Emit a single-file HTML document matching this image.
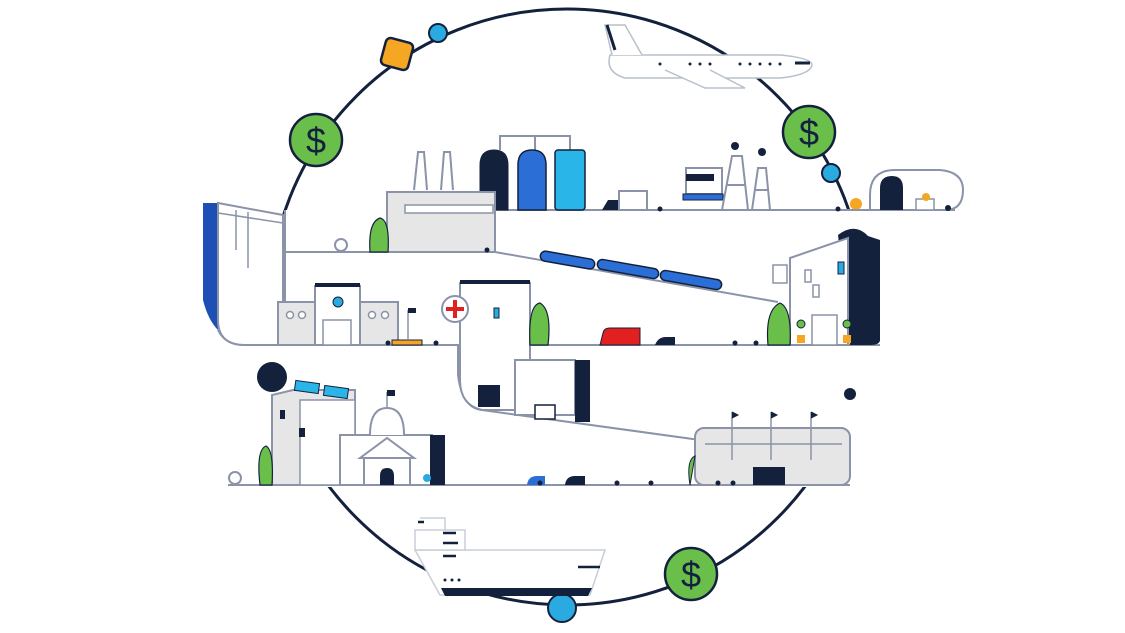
<!DOCTYPE html>
<html><head><meta charset="utf-8"><style>html,body{margin:0;padding:0;background:#fff}svg{display:block}</style></head>
<body>
<svg width="1125" height="633" viewBox="0 0 1125 633" xmlns="http://www.w3.org/2000/svg" font-family="Liberation Sans, sans-serif">
<g fill="none" stroke-linecap="round" stroke-linejoin="round">
<circle cx="567" cy="307" r="298" stroke="#14213d" stroke-width="3"/>
</g>
<path d="M285 210 H960 V345 H285 Z" fill="#fff"/>
<path d="M218 252 H880 V487 H218 Z" fill="#fff"/>
<!-- plane -->
<g stroke="#b8c0cc" stroke-width="1.5" fill="#fff">
<path d="M610 55 H780 Q812 58 812 65 Q810 75 780 78 H625 Q605 72 610 55 Z"/>
<path d="M612 55 L605 25 L625 25 L642 55" />
<path d="M665 70 L705 88 H745 L710 70"/>
</g>
<path d="M607 25 L615 50" stroke="#14213d" stroke-width="3"/>
<path d="M795 63 H810" stroke="#14213d" stroke-width="3"/>
<g fill="#14213d"><circle cx="660" cy="64" r="1.5"/><circle cx="690" cy="64" r="1.5"/><circle cx="700" cy="64" r="1.5"/><circle cx="710" cy="64" r="1.5"/><circle cx="740" cy="64" r="1.5"/><circle cx="750" cy="64" r="1.5"/><circle cx="760" cy="64" r="1.5"/><circle cx="770" cy="64" r="1.5"/><circle cx="780" cy="64" r="1.5"/></g>
<rect x="383" y="40" width="28" height="28" rx="5" fill="#f5a623" stroke="#14213d" stroke-width="2.5" transform="rotate(15 397 54)"/>
<circle cx="438" cy="33" r="9" fill="#29abe2" stroke="#14213d" stroke-width="2"/>
<circle cx="316" cy="140" r="26" fill="#6abf4b" stroke="#14213d" stroke-width="2.5"/>
<text x="316" y="153" font-size="36" text-anchor="middle" fill="#14213d">$</text>
<circle cx="809" cy="132" r="26" fill="#6abf4b" stroke="#14213d" stroke-width="2.5"/>
<text x="809" y="145" font-size="36" text-anchor="middle" fill="#14213d">$</text>
<circle cx="831" cy="173" r="9" fill="#29abe2" stroke="#14213d" stroke-width="2"/>
<circle cx="856" cy="204" r="6" fill="#f5a623"/>
<circle cx="691" cy="574" r="26" fill="#6abf4b" stroke="#14213d" stroke-width="2.5"/>
<text x="691" y="587" font-size="36" text-anchor="middle" fill="#14213d">$</text>
<circle cx="562" cy="608" r="14" fill="#29abe2" stroke="#14213d" stroke-width="2"/>
<circle cx="850" cy="394" r="6" fill="#14213d"/>
<circle cx="272" cy="377" r="15" fill="#14213d"/>
<!-- ship -->
<g stroke="#c8ced8" stroke-width="1.5" fill="#fff">
<path d="M415 550 H605 L590 595 H440 Z"/>
<path d="M415 530 H465 V550 H415 Z"/>
<path d="M420 518 H445 V530"/>
</g>
<path d="M445 596 H588 L592 588 H441 Z" fill="#14213d"/>
<g stroke="#14213d" stroke-width="2.5"><path d="M443 533 H456"/><path d="M443 543 H458"/><path d="M443 556 H456"/><path d="M578 567 H600"/><path d="M418 522 H424"/></g>
<g fill="#14213d"><circle cx="445" cy="580" r="1.5"/><circle cx="452" cy="580" r="1.5"/><circle cx="459" cy="580" r="1.5"/></g>
<!-- structure lines -->
<g fill="none" stroke="#8a93a8" stroke-width="2">
<path d="M495 210 H955"/>
<path d="M870 210 V195 Q870 170 895 170 H940 Q963 172 963 190 Q963 210 945 210"/>
<path d="M285 252 H495 L778 302"/>
<path d="M218 330 Q225 345 245 345 H880"/>
<path d="M458 345 V375 Q462 408 482 410 L700 440"/>
<path d="M228 485 H850"/>
<path d="M285 210 V345"/>
</g>
<path d="M500 150 V136 H570 V150 M535 136 V150" stroke="#8a93a8" stroke-width="2" fill="none"/>
<path d="M480 210 V165 Q480 150 494 150 Q508 150 508 165 V210 Z" fill="#14213d" stroke="#14213d"/>
<path d="M518 210 V165 Q518 150 532 150 Q546 150 546 165 V210 Z" fill="#2b6fd6" stroke="#14213d" stroke-width="1.5"/>
<rect x="555" y="150" width="30" height="60" rx="3" fill="#29b5e8" stroke="#14213d" stroke-width="1.5"/>
<path d="M414 190 L418 152 H424 L427 190 M441 190 L444 152 H450 L453 190" stroke="#8a93a8" stroke-width="2" fill="#fff"/>
<path d="M387 252 V192 H495 V252 Z" fill="#e6e6e6" stroke="#8a93a8" stroke-width="2"/>
<rect x="405" y="205" width="88" height="8" fill="#fff" stroke="#8a93a8" stroke-width="1.5"/>
<path d="M370 252 Q368 222 380 218 Q390 220 388 252 Z" fill="#6abf4b" stroke="#14213d" stroke-width="1.2"/>
<circle cx="341" cy="245" r="6" fill="#fff" stroke="#8a93a8" stroke-width="2"/>
<rect x="619" y="191" width="28" height="19" fill="#fff" stroke="#8a93a8" stroke-width="2"/>
<path d="M602 210 L608 200 H618 V210 Z" fill="#14213d"/>
<rect x="686" y="168" width="36" height="26" fill="#fff" stroke="#8a93a8" stroke-width="2"/>
<rect x="686" y="174" width="28" height="7" fill="#14213d"/>
<rect x="683" y="194" width="40" height="6" fill="#2b6fd6" stroke="#14213d"/>
<path d="M722 210 L732 156 H742 L748 210 M752 210 L758 168 H766 L770 210 M727 185 H745 M755 190 H768" stroke="#8a93a8" stroke-width="2" fill="none"/>
<circle cx="735" cy="146" r="4" fill="#14213d"/><circle cx="762" cy="152" r="4" fill="#14213d"/>
<path d="M880 210 V188 Q880 176 892 176 Q903 176 903 188 V210 Z" fill="#14213d"/>
<rect x="916" y="199" width="18" height="11" fill="#fff" stroke="#8a93a8" stroke-width="1.5"/>
<circle cx="926" cy="197" r="4" fill="#f5a623"/>
<path d="M203 203 H218 V330 Q208 320 203 300 Z" fill="#1d4fb5"/>
<path d="M218 203 L283 215 V345 H245 Q218 345 218 320 Z" fill="#fff" stroke="#8a93a8" stroke-width="2"/>
<path d="M218 213 L283 223 M236 210 V250 M248 212 V268" stroke="#8a93a8" stroke-width="1.5"/>
<path d="M278 345 V302 H315 V286 H360 V302 H398 V345 Z" fill="#e6e6e6" stroke="#8a93a8" stroke-width="2"/>
<rect x="315" y="286" width="45" height="59" fill="#fff" stroke="#8a93a8" stroke-width="2"/>
<rect x="315" y="283" width="45" height="4" fill="#14213d"/>
<circle cx="338" cy="302" r="5" fill="#29abe2" stroke="#14213d"/>
<rect x="323" y="320" width="28" height="25" fill="#fff" stroke="#8a93a8" stroke-width="1.5"/>
<g fill="#fff" stroke="#8a93a8" stroke-width="1.5"><circle cx="290" cy="315" r="3.5"/><circle cx="302" cy="315" r="3.5"/><circle cx="372" cy="315" r="3.5"/><circle cx="385" cy="315" r="3.5"/></g>
<rect x="392" y="340" width="30" height="5" fill="#f5a623" stroke="#14213d" stroke-width="1"/>
<path d="M408 340 V310" stroke="#8a93a8" stroke-width="1.5"/><rect x="408" y="308" width="8" height="5" fill="#14213d"/>
<path d="M460 283 H530 V410 H482 Q460 405 460 380 Z" fill="#fff" stroke="#8a93a8" stroke-width="2"/>
<circle cx="455" cy="309" r="13" fill="#fff" stroke="#8a93a8" stroke-width="2"/>
<path d="M455 300 V318 M446 309 H464" stroke="#e32020" stroke-width="4"/>
<rect x="460" y="280" width="70" height="4" fill="#14213d"/>
<rect x="478" y="385" width="22" height="22" fill="#14213d"/>
<rect x="515" y="360" width="60" height="55" fill="#fff" stroke="#8a93a8" stroke-width="2"/>
<rect x="575" y="360" width="15" height="62" fill="#14213d"/>
<path d="M530 345 Q528 305 540 303 Q552 310 548 345 Z" fill="#6abf4b" stroke="#14213d" stroke-width="1.2"/>
<rect x="494" y="308" width="5" height="10" fill="#29abe2" stroke="#14213d" stroke-width="1"/>
<rect x="535" y="405" width="20" height="14" fill="#fff" stroke="#14213d" stroke-width="1.5"/>
<g fill="#2b6fd6" stroke="#14213d" stroke-width="1.5">
<rect x="540" y="255" width="55" height="10" rx="5" transform="rotate(10 567 260)"/>
<rect x="597" y="264" width="62" height="10" rx="5" transform="rotate(10 628 269)"/>
<rect x="660" y="275" width="62" height="10" rx="5" transform="rotate(10 691 280)"/>
</g>
<path d="M600 345 L603 333 Q604 328 610 328 H640 V345 Z" fill="#e32020" stroke="#14213d" stroke-width="1"/>
<path d="M655 345 Q658 337 666 337 H675 V345 Z" fill="#14213d"/>
<path d="M838 235 Q855 222 868 236 L880 240 V340 Q880 345 870 345 H850 Z" fill="#14213d"/>
<path d="M790 258 L848 238 V345 H790 Z" fill="#fff" stroke="#8a93a8" stroke-width="2"/>
<rect x="773" y="265" width="14" height="18" fill="#fff" stroke="#8a93a8" stroke-width="1.5"/>
<rect x="838" y="262" width="6" height="12" fill="#29abe2" stroke="#14213d" stroke-width="1"/>
<rect x="805" y="270" width="6" height="12" fill="#fff" stroke="#8a93a8" stroke-width="1.5"/>
<rect x="813" y="285" width="6" height="12" fill="#fff" stroke="#8a93a8" stroke-width="1.5"/>
<rect x="812" y="315" width="25" height="30" fill="#fff" stroke="#8a93a8" stroke-width="1.5"/>
<path d="M768 345 Q765 310 780 303 Q792 308 790 345 Z" fill="#6abf4b" stroke="#14213d" stroke-width="1.2"/>
<circle cx="801" cy="324" r="4" fill="#6abf4b" stroke="#14213d"/><circle cx="847" cy="324" r="4" fill="#6abf4b" stroke="#14213d"/>
<rect x="797" y="335" width="8" height="8" fill="#f5a623"/><rect x="843" y="335" width="8" height="8" fill="#f5a623"/>
<path d="M272 485 V395 L293 390 H355 V485 Z" fill="#e6e6e6" stroke="#8a93a8" stroke-width="2"/>
<path d="M300 400 V485 H355 V400 Z" fill="#fff" stroke="#8a93a8" stroke-width="1.5"/>
<rect x="295" y="382" width="24" height="10" fill="#29b5e8" stroke="#14213d" transform="rotate(8 307 387)"/>
<rect x="324" y="387" width="24" height="10" fill="#29b5e8" stroke="#14213d" transform="rotate(8 336 392)"/>
<rect x="280" y="410" width="5" height="9" fill="#14213d"/><rect x="299" y="428" width="6" height="9" fill="#14213d"/>
<path d="M260 485 Q256 450 266 446 Q274 450 272 485 Z" fill="#6abf4b" stroke="#14213d" stroke-width="1.2"/>
<circle cx="235" cy="478" r="6" fill="#fff" stroke="#8a93a8" stroke-width="2"/>
<path d="M340 485 V435 H432 V485 Z" fill="#fff" stroke="#8a93a8" stroke-width="2"/>
<rect x="430" y="435" width="15" height="50" fill="#14213d"/>
<path d="M370 435 Q370 408 387 408 Q404 408 404 435" fill="#fff" stroke="#8a93a8" stroke-width="2"/>
<path d="M387 408 V392" stroke="#8a93a8" stroke-width="1.5"/><rect x="387" y="390" width="8" height="6" fill="#14213d"/>
<path d="M360 458 L387 438 L414 458 Z M364 458 V485 M410 458 V485" fill="#fff" stroke="#8a93a8" stroke-width="2"/>
<path d="M380 485 V476 Q380 468 387 468 Q394 468 394 476 V485 Z" fill="#14213d"/>
<circle cx="427" cy="478" r="4" fill="#29abe2"/>
<path d="M527 485 Q528 476 537 476 H545 V485 Z" fill="#2b6fd6"/>
<path d="M565 485 Q566 476 575 476 H585 V485 Z" fill="#14213d"/>
<rect x="695" y="428" width="155" height="57" rx="9" fill="#e6e6e6" stroke="#8a93a8" stroke-width="2"/>
<path d="M705 444 H842 M732 412 V460 M771 412 V460 M811 412 V460" stroke="#8a93a8" stroke-width="1.5"/>
<path d="M732 412 L738 415 L732 418 M771 412 L777 415 L771 418 M811 412 L817 415 L811 418" fill="#14213d" stroke="#14213d"/>
<rect x="753" y="467" width="32" height="18" fill="#14213d"/>
<path d="M690 485 Q686 460 695 456 Z" fill="#6abf4b" stroke="#14213d"/>
<g fill="#14213d"><circle cx="487" cy="250" r="2.5"/><circle cx="660" cy="209" r="2.5"/><circle cx="838" cy="209" r="2.5"/><circle cx="948" cy="208" r="3"/><circle cx="388" cy="343" r="2.5"/><circle cx="436" cy="343" r="2.5"/><circle cx="735" cy="343" r="2.5"/><circle cx="756" cy="343" r="2.5"/><circle cx="540" cy="483" r="2.5"/><circle cx="617" cy="483" r="2.5"/><circle cx="651" cy="483" r="2.5"/><circle cx="718" cy="483" r="2.5"/><circle cx="733" cy="483" r="2.5"/></g>
</svg>
</body></html>
